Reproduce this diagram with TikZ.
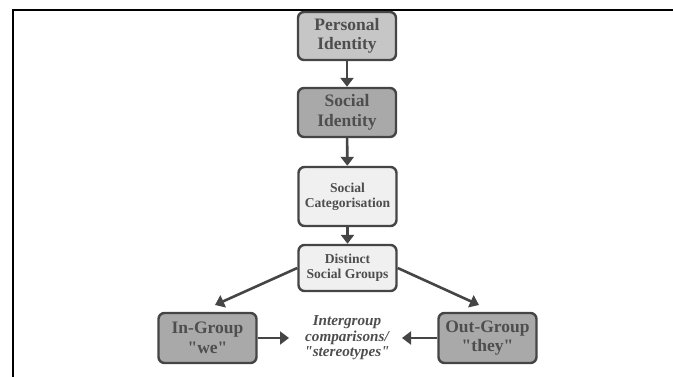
\documentclass[tikz,border=0pt]{standalone}
\usepackage{fontspec}
% plain family (no TeX ligature mapping, so " stays a straight quote)
\newfontfamily\lib{Liberation Serif}
\usetikzlibrary{arrows.meta}
\definecolor{edge}{HTML}{454545}
\definecolor{ink}{HTML}{4E4E4E}
\definecolor{midgray}{HTML}{A9A9A9}
\definecolor{lightgray}{HTML}{C6C6C6}
\definecolor{palegray}{HTML}{F0F0F0}
\begin{document}
\begin{tikzpicture}[x=1pt,y=-1pt,
  box/.style={draw=edge, line width=2.4pt, rounded corners=6pt,
    minimum width=98pt, text=ink, align=center, inner sep=0pt},
  bigtext/.style={font=\lib\fontsize{17.5}{19.5}\selectfont\bfseries},
  smalltext/.style={font=\lib\fontsize{13.6}{15}\selectfont\bfseries},
  link/.style={draw=edge, line width=2.6pt, -{Triangle[length=9pt,width=13pt]}}]
  \useasboundingbox (0,0) rectangle (673,377);
  % frame lines
  \draw[line width=2pt, black] (13.3,377) -- (13.3,10.3) -- (673,10.3);
  % boxes
  \node[box, bigtext, fill=lightgray, minimum height=48pt] (pers) at (347,36) {Personal\\Identity};
  \node[box, bigtext, fill=midgray, minimum height=49pt] (soc) at (347,112.5) {Social\\Identity};
  \node[box, smalltext, fill=palegray, minimum height=59pt] (cat) at (347.5,196.5) {Social\\Categorisation};
  \node[box, smalltext, fill=palegray, minimum height=46pt] (grp) at (347.5,268) {Distinct\\Social Groups};
  \node[box, bigtext, fill=midgray, minimum height=50pt] (in) at (207.5,338) {In-Group\\"we"};
  \node[box, bigtext, fill=midgray, minimum height=50pt] (out) at (487.5,338) {Out-Group\\"they"};
  \node[text=ink, align=center, font=\lib\fontsize{15.2}{15.5}\selectfont\bfseries\itshape] (cmp) at (347,338)
    {Intergroup\\comparisons/\\"stereotypes"};
  % connectors
  \draw[link] (pers) -- (soc);
  \draw[link] (soc) -- (cat);
  \draw[link] (cat) -- (grp);
  \coordinate (lt) at (215,305);
  \coordinate (rt) at (479,305);
  \draw[link] (grp.west) -- (lt);
  \draw[link] (grp.east) -- (rt);
  \draw[link] (in.east) -- (289,338);
  \draw[link] (out.west) -- (402,338);
\end{tikzpicture}
\end{document}
